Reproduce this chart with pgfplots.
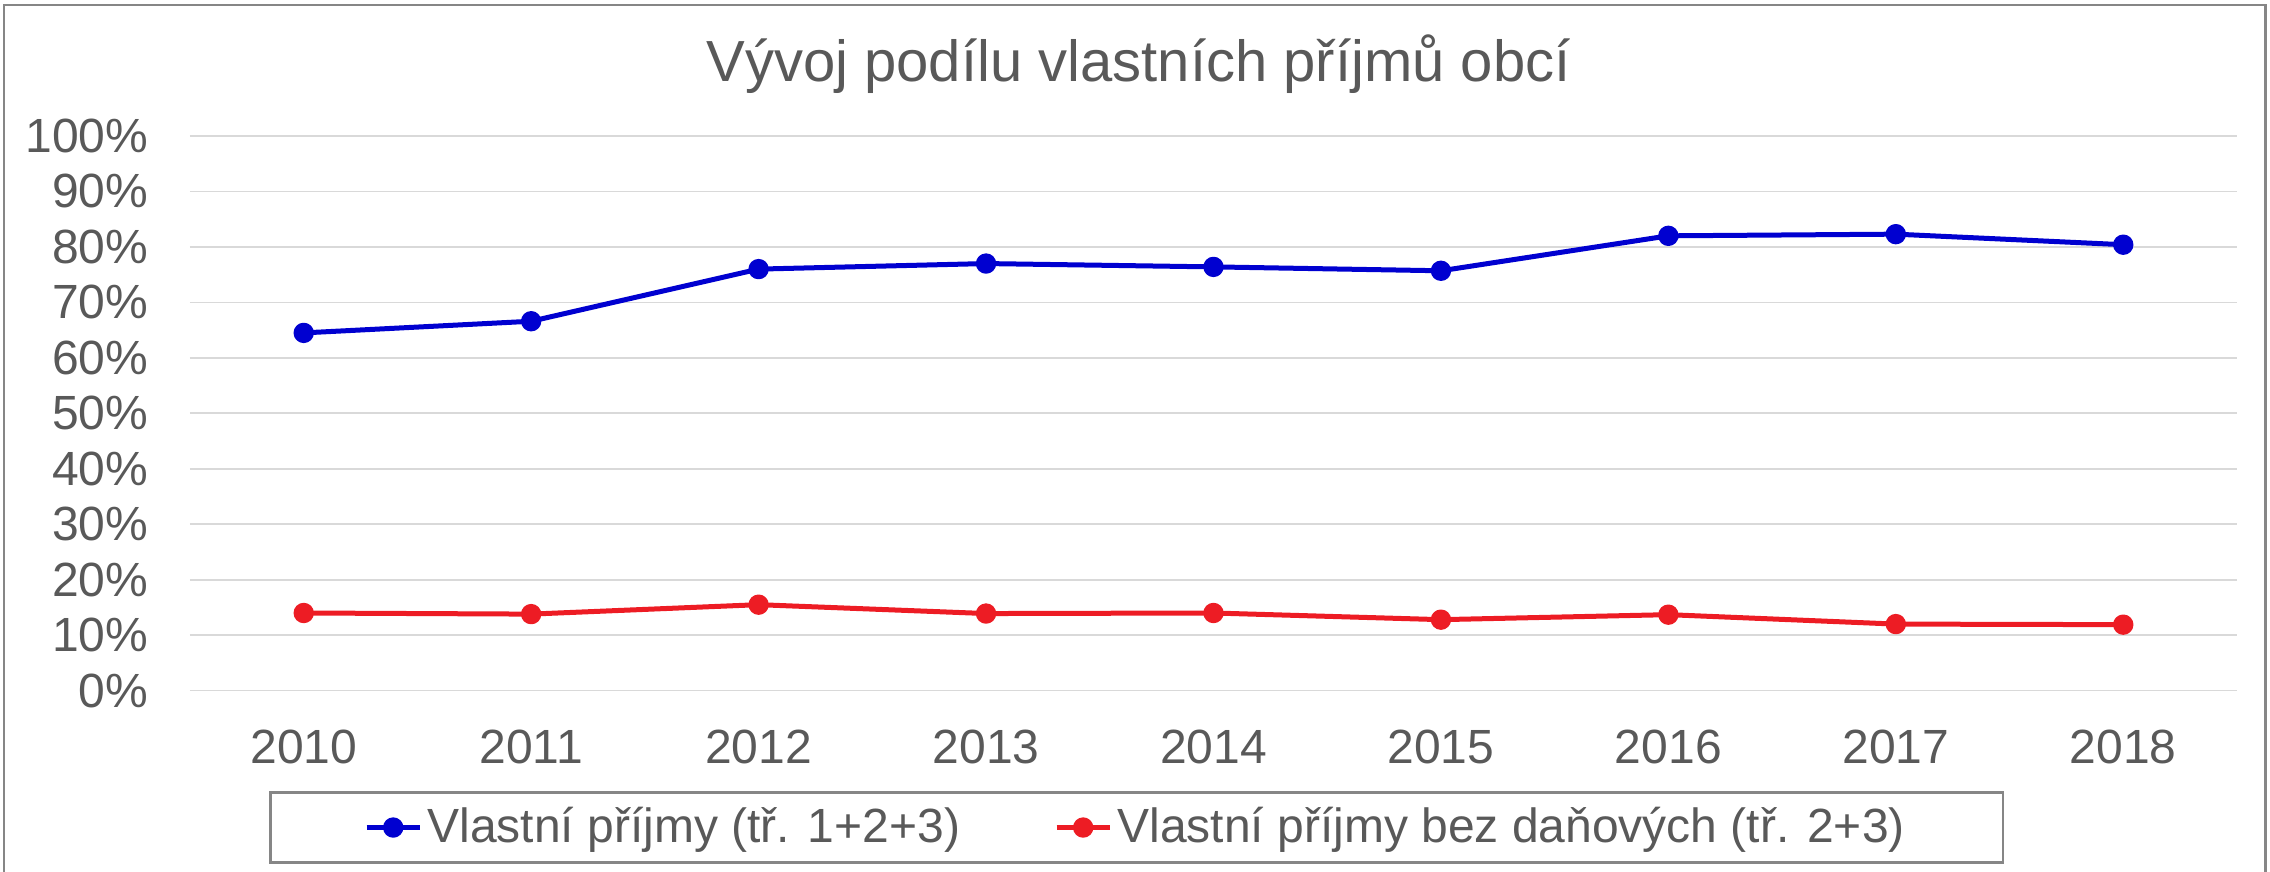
\documentclass[border=0pt]{standalone}
\usepackage{pgfplots}
\pgfplotsset{compat=1.18}
\usepackage{fontspec}
\setmainfont{Liberation Sans}
\definecolor{txt}{RGB}{89,89,89}
\definecolor{gridc}{RGB}{217,217,217}
\definecolor{serA}{RGB}{0,0,208}
\definecolor{serB}{RGB}{237,28,36}
\definecolor{framec}{RGB}{134,134,134}
\begin{document}
\begin{tikzpicture}
\useasboundingbox (0,0) rectangle (681pt,261.6pt);
\draw[framec, line width=0.8pt] (1.2pt,-1pt) -- (1.2pt,260.1pt) -- (679.6pt,260.1pt) -- (679.6pt,-1pt);
\begin{axis}[
  at={(57pt,54.4pt)}, anchor=south west,
  scale only axis, width=614.1pt, height=166.4pt,
  xmin=-0.5, xmax=8.5, ymin=0, ymax=100,
  xtick={0,1,2,3,4,5,6,7,8},
  xticklabels={2010,2011,2012,2013,2014,2015,2016,2017,2018},
  ytick={0,10,20,30,40,50,60,70,80,90,100},
  yticklabels={0\%,10\%,20\%,30\%,40\%,50\%,60\%,70\%,80\%,90\%,100\%},
  /pgf/number format/assume math mode=true,
  ymajorgrids, grid style={gridc, line width=0.5pt},
  axis line style={draw=none}, major tick length=0pt,
  tick label style={font=\fontsize{14.4}{17}\selectfont, text=txt},
  xticklabel style={anchor=center, inner sep=0pt, yshift=-16.9pt},
  yticklabel style={anchor=east, inner sep=0pt, xshift=-12.3pt},
  every axis title shift=0pt,
  title={Vývoj podílu vlastních příjmů obcí},
  title style={at={(axis description cs:0.4634,1.0977)}, anchor=base, font=\fontsize{17.4}{20}\selectfont, text=txt, inner sep=0pt},
  legend columns=2,
  legend style={at={(axis description cs:0.4626,-0.2468)}, anchor=center,
    draw=framec, line width=0.8pt, inner xsep=28pt, inner ysep=3pt,
    font=\fontsize{14.4}{17}\selectfont, text=txt,
    nodes={inner sep=1.5pt},
    /tikz/every even column/.append style={column sep=26.7pt}},
  legend image code/.code={\draw[mark repeat=2,mark phase=2,#1] plot coordinates {(0pt,0pt) (8pt,0pt) (16pt,0pt)};},
]
\addplot[serA, line width=1.5pt, line join=round, mark=*, mark size=2.3pt] coordinates {
  (0,64.5) (1,66.6) (2,76.0) (3,77.0) (4,76.4) (5,75.7) (6,82.0) (7,82.3) (8,80.4)};
\addlegendentry{Vlastní příjmy (tř. 1+2+3)}
\addplot[serB, line width=1.5pt, line join=round, mark=*, mark size=2.3pt] coordinates {
  (0,14.0) (1,13.8) (2,15.5) (3,13.9) (4,14.0) (5,12.8) (6,13.7) (7,12.0) (8,11.9)};
\addlegendentry{Vlastní příjmy bez daňových (tř. 2+3)}
\end{axis}
\end{tikzpicture}
\end{document}
